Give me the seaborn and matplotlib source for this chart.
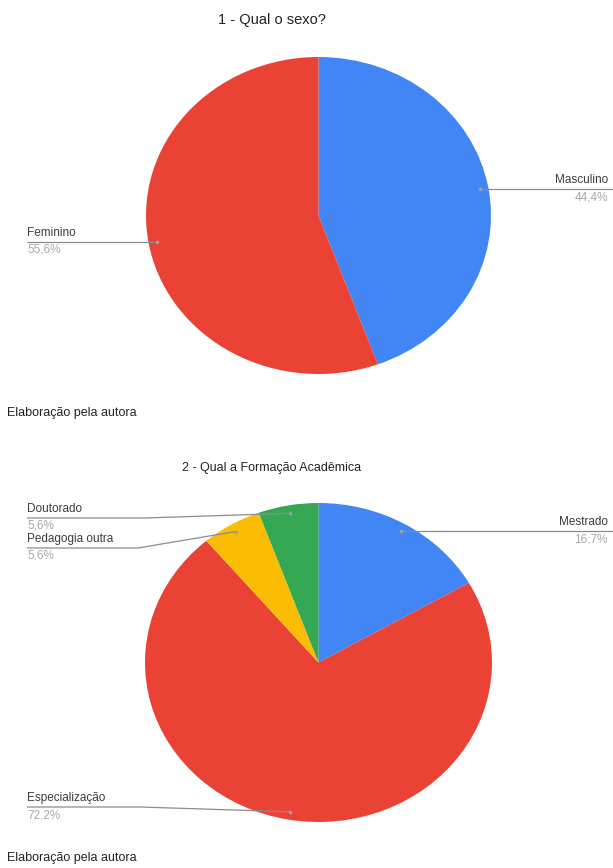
import numpy as np
import matplotlib
matplotlib.use("Agg")
import matplotlib.pyplot as plt
import seaborn as sns

# --- data ---------------------------------------------------------------
sexo_labels = ["Masculino", "Feminino"]
sexo_values = [44.4, 55.6]
sexo_pct = ["44,4%", "55,6%"]

formacao_labels = ["Mestrado", "Especialização", "Pedagogia outra", "Doutorado"]
formacao_values = [16.7, 72.2, 5.6, 5.6]
formacao_pct = ["16,7%", "72,2%", "5,6%", "5,6%"]

titulo_1 = "1 - Qual o sexo?"
titulo_2 = "2 - Qual a Formação Acadêmica"
fonte = "Elaboração pela autora"

# --- style --------------------------------------------------------------
sns.set_theme(style="white")
plt.rcParams["font.family"] = ["Liberation Sans", "DejaVu Sans"]

BLUE, RED, YELLOW, GREEN = "#4285F4", "#EA4335", "#FBBC04", "#34A853"
pal_sexo = sns.color_palette([BLUE, RED])
pal_form = sns.color_palette([BLUE, RED, YELLOW, GREEN])

W, H = 613, 868
fig = plt.figure(figsize=(W / 100, H / 100), dpi=100)

# overlay in image pixel coordinates (origin top-left) for texts and leaders
ov = fig.add_axes([0, 0, 1, 1], zorder=5)
ov.set_xlim(0, W)
ov.set_ylim(H, 0)
ov.axis("off")


def pie_axes(left, top, right, bottom):
    return fig.add_axes([left / W, 1 - bottom / H, (right - left) / W, (bottom - top) / H])


def draw_pie(ax, values, colors):
    wedges, _ = ax.pie(values, colors=colors, startangle=90, counterclock=False,
                       radius=1, wedgeprops=dict(linewidth=0))
    ax.set_aspect("auto")
    ax.set_xlim(-1, 1)
    ax.set_ylim(-1, 1)
    # anchor point of each slice, in overlay pixel coordinates
    anchors = []
    for w in wedges:
        mid = np.deg2rad((w.theta1 + w.theta2) / 2)
        px, py = ax.transData.transform((0.95 * np.cos(mid), 0.95 * np.sin(mid)))
        anchors.append((px, H - py))
    return anchors


def label(anchor, name, pct, text_x, line_y, side, elbow_x=None):
    ax_, ay_ = anchor
    if side == "right":
        xs, ys = [ax_, W], [line_y, line_y]
        ov.text(text_x, line_y - 3, name, ha="right", va="bottom",
                fontsize=8.5, color="#3c3c3c")
        ov.text(text_x, line_y + 2, pct, ha="right", va="top",
                fontsize=8.5, color="#a8a8a8")
    else:
        if elbow_x is None:
            xs, ys = [text_x, ax_], [line_y, line_y]
        else:
            xs, ys = [text_x, elbow_x, ax_], [line_y, line_y, ay_]
        ov.text(text_x, line_y - 3, name, ha="left", va="bottom",
                fontsize=8.5, color="#3c3c3c")
        ov.text(text_x, line_y + 2, pct, ha="left", va="top",
                fontsize=8.5, color="#a8a8a8")
    ov.plot(xs, ys, color="#8c8c8c", lw=0.9, solid_capstyle="butt")
    ov.plot([ax_], [ay_], "o", ms=2.6, color="#a0a0a0", mec="none")


# --- chart 1 ------------------------------------------------------------
ax1 = pie_axes(146, 57, 491, 374)
a1 = draw_pie(ax1, sexo_values, pal_sexo)
ov.text(272, 20, titulo_1, ha="center", va="center", fontsize=10.5, color="#222222")
label(a1[0], sexo_labels[0], sexo_pct[0], 608, a1[0][1], "right")
label(a1[1], sexo_labels[1], sexo_pct[1], 27, a1[1][1], "left")
ov.text(7, 413, fonte, ha="left", va="center", fontsize=9, color="#222222")

# --- chart 2 ------------------------------------------------------------
ax2 = pie_axes(145, 503, 492, 822)
a2 = draw_pie(ax2, formacao_values, pal_form)
ov.text(272, 468, titulo_2, ha="center", va="center", fontsize=9, color="#222222")
label(a2[0], formacao_labels[0], formacao_pct[0], 608, a2[0][1], "right")
label(a2[1], formacao_labels[1], formacao_pct[1], 27, 807, "left", elbow_x=140)
label(a2[2], formacao_labels[2], formacao_pct[2], 27, 548, "left", elbow_x=138)
label(a2[3], formacao_labels[3], formacao_pct[3], 27, 518, "left", elbow_x=145)
ov.text(7, 858, fonte, ha="left", va="center", fontsize=9, color="#222222")

fig.savefig("out.png", dpi=100, facecolor="white")
